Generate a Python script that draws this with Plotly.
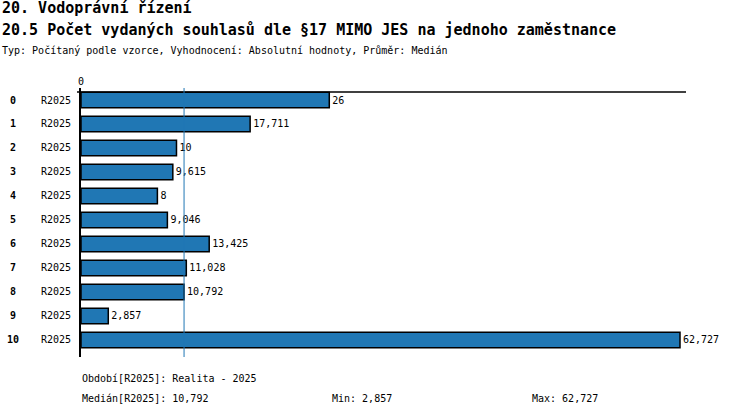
import plotly.graph_objects as go

# data
rows = list(range(11))
period = ["R2025"] * 11
values = [26000, 17711, 10000, 9615, 8000, 9046, 13425, 11028, 10792, 2857, 62727]
labels = ["26", "17,711", "10", "9,615", "8", "9,046", "13,425", "11,028", "10,792", "2,857", "62,727"]
median = 10792
vmin = 2857
vmax = 62727

W, H = 750, 416
L, R, T, B = 81, 686, 88, 357
mono = "DejaVu Sans Mono"


def px_x(px):
    return (px - L) / (R - L)


def px_y(py):
    return (B - py) / (B - T)


fig = go.Figure()
fig.add_trace(go.Bar(
    x=values, y=rows, orientation="h", width=0.64,
    marker=dict(color="#2077b4", line=dict(color="black", width=1.5)),
    text=labels, textposition="outside", cliponaxis=False,
    textfont=dict(family=mono, size=10, color="black"),
    hoverinfo="skip",
))

annotations = []
for r in rows:
    annotations.append(dict(x=px_x(13), y=r, xref="paper", yref="y", text="<b>%d</b>" % r,
                            showarrow=False, xanchor="center",
                            font=dict(family=mono, size=10, color="black")))

head = [
    ("<b>20. Vodoprávní řízení</b>", 8, 15),
    ("<b>20.5 Počet vydaných souhlasů dle §17 MIMO JES na jednoho zaměstnance</b>", 30, 15),
    ("Typ: Počítaný podle vzorce, Vyhodnocení: Absolutní hodnoty, Průměr: Medián", 50, 10),
]
for txt, py, sz in head:
    annotations.append(dict(x=px_x(0), y=px_y(py), xref="paper", yref="paper", text=txt,
                            showarrow=False, xanchor="left", yanchor="middle",
                            font=dict(family=mono, size=sz, color="black")))

foot = [
    ("Období[R2025]: Realita - 2025", 80, 378),
    ("Medián[R2025]: {:,}".format(median), 80, 398),
    ("Min: {:,}".format(vmin), 330, 398),
    ("Max: {:,}".format(vmax), 530, 398),
]
for txt, pxx, py in foot:
    annotations.append(dict(x=px_x(pxx), y=px_y(py), xref="paper", yref="paper", text=txt,
                            showarrow=False, xanchor="left", yanchor="middle",
                            font=dict(family=mono, size=10, color="black")))

annotations.append(dict(x=0, y=px_y(82), xref="x", yref="paper", text="0", showarrow=False,
                        xanchor="center", yanchor="middle",
                        font=dict(family=mono, size=10, color="black")))

shapes = [
    dict(type="line", xref="paper", yref="y", x0=px_x(77), x1=1, y0=-0.333, y1=-0.333,
         line=dict(color="black", width=1.5)),
    dict(type="line", xref="x", yref="paper", x0=median, x1=median, y0=0, y1=1,
         line=dict(color="#2077b4", width=1)),
]

fig.update_layout(
    width=W, height=H,
    margin=dict(l=L, r=W - R, t=T, b=H - B, pad=0),
    plot_bgcolor="white", paper_bgcolor="white",
    showlegend=False,
    font=dict(family=mono, size=10, color="black"),
    xaxis=dict(range=[0, vmax * (R - L) / 599], showticklabels=False,
               showgrid=False, zeroline=False, showline=False, ticks=""),
    yaxis=dict(range=[10.71, -0.5], tickvals=rows, ticktext=period, showgrid=False,
               zeroline=False, showline=True, linecolor="black", linewidth=2, ticks="",
               ticklabelstandoff=6, tickfont=dict(family=mono, size=10)),
    annotations=annotations,
    shapes=shapes,
)

# drop the default body margin so the figure sits at the page corner
fig.write_html("out.html", config={"displayModeBar": False},
               post_script="document.body.style.margin='0';")
